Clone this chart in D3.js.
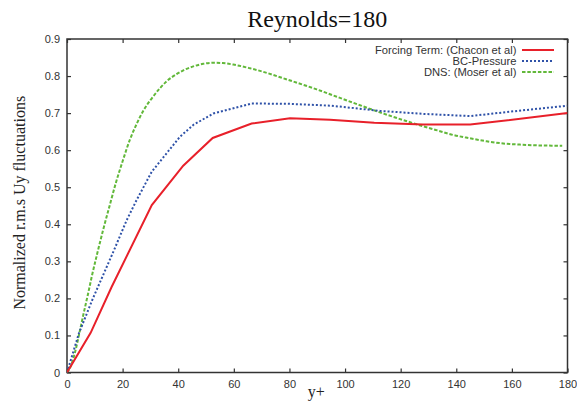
<!DOCTYPE html>
<html>
<head>
<meta charset="utf-8">
<script src="https://cdn.jsdelivr.net/npm/d3@7"></script>
<style>
  html, body { margin: 0; padding: 0; background: #fff; }
  svg { display: block; }
</style>
</head>
<body>
<svg id="chart" width="577" height="410"></svg>
<script>
// ---- data ----
const titleText = "Reynolds=180";
const xLabelText = "y+";
const yLabelText = "Normalized r.m.s Uy fluctuations";
const xTicks = [0, 20, 40, 60, 80, 100, 120, 140, 160, 180];
const yTicks = [0, 0.1, 0.2, 0.3, 0.4, 0.5, 0.6, 0.7, 0.8, 0.9];
const seriesNames = ["Forcing Term: (Chacon et al)", "BC-Pressure", "DNS: (Moser et al)"];

const forcingX = [0, 8.5, 16, 30.5, 41.8, 52.4, 66.4, 80.2, 94.6, 110.5, 128, 145, 180];
const forcingY = [0, 0.107, 0.230, 0.452, 0.558, 0.633, 0.672, 0.686, 0.682, 0.674, 0.669, 0.669, 0.700];

const bcX = [0, 4.3, 9.1, 16.9, 21.4, 25, 30.5, 40.6, 45.4, 52.6, 66.4, 80, 95, 112.6, 128, 145, 162, 180];
const bcY = [0, 0.106, 0.196, 0.330, 0.410, 0.465, 0.542, 0.636, 0.668, 0.699, 0.726, 0.725, 0.720, 0.706, 0.698, 0.692, 0.706, 0.720];

const dnsX = [0, 1.5, 3, 4.5, 6, 7.5, 9, 11, 13, 15.5, 17.5, 20, 22.7, 25, 27.4, 30, 33.4, 36, 39.4, 42, 45.4, 49, 52.6, 56, 59.8, 65.8, 69.4, 77.8, 89.8, 101.8, 113.7, 125.7, 132.9, 138.9, 144.9, 150.9, 156.9, 162.9, 168.9, 178.1];
const dnsY = [0, 0.02, 0.058, 0.108, 0.16, 0.21, 0.262, 0.325, 0.385, 0.455, 0.51, 0.57, 0.63, 0.67, 0.706, 0.735, 0.767, 0.787, 0.805, 0.816, 0.826, 0.833, 0.836, 0.835, 0.831, 0.821, 0.814, 0.794, 0.764, 0.731, 0.699, 0.670, 0.654, 0.641, 0.632, 0.624, 0.618, 0.615, 0.613, 0.612];

// ---- layout ----
const svg = d3.select("#chart");
const mLeft = 67, mRight = 567.5, mTop = 39, mBottom = 372.5;
const x = d3.scaleLinear().domain([0, 180]).range([mLeft, mRight]);
const y = d3.scaleLinear().domain([0, 0.9]).range([mBottom, mTop]);

const sansFont = "'Liberation Sans', Arial, Helvetica, sans-serif";
const serifFont = "'Liberation Serif', 'Times New Roman', serif";
const axisColor = "#333";

function styleAxis(g) {
  g.select(".domain").remove();
  g.selectAll(".tick line").attr("stroke", axisColor).attr("stroke-width", 1.2);
  g.selectAll(".tick text").attr("fill", axisColor).style("font-family", sansFont).style("font-size", "11px");
}

svg.append("g").attr("transform", `translate(0,${mBottom})`)
  .call(d3.axisBottom(x).tickValues(xTicks).tickSizeInner(-4).tickSizeOuter(0).tickPadding(8).tickFormat(d3.format("d")))
  .call(styleAxis);
svg.append("g").attr("transform", `translate(0,${mTop})`)
  .call(d3.axisTop(x).tickValues(xTicks).tickSizeInner(-4).tickSizeOuter(0).tickFormat(""))
  .call(styleAxis);
svg.append("g").attr("transform", `translate(${mLeft},0)`)
  .call(d3.axisLeft(y).tickValues(yTicks).tickSizeInner(-4).tickSizeOuter(0).tickPadding(7).tickFormat(d => d === 0 ? "0" : d3.format(".1f")(d)))
  .call(styleAxis);
svg.append("g").attr("transform", `translate(${mRight},0)`)
  .call(d3.axisRight(y).tickValues(yTicks).tickSizeInner(-4).tickSizeOuter(0).tickFormat(""))
  .call(styleAxis);

// frame
svg.append("rect")
  .attr("x", mLeft).attr("y", mTop)
  .attr("width", mRight - mLeft).attr("height", mBottom - mTop)
  .attr("fill", "none").attr("stroke", axisColor).attr("stroke-width", 1.5);

// ---- series ----
const series = [
  { name: seriesNames[0], xs: forcingX, ys: forcingY, color: "#e8202a", dash: null, width: 2, curve: d3.curveLinear },
  { name: seriesNames[1], xs: bcX, ys: bcY, color: "#2f52a8", dash: "2,2", width: 2, curve: d3.curveLinear },
  { name: seriesNames[2], xs: dnsX, ys: dnsY, color: "#62b83a", dash: "3.5,1.8", width: 2, curve: d3.curveMonotoneX }
];

const clipId = "plotclip";
svg.append("clipPath").attr("id", clipId).append("rect")
  .attr("x", mLeft).attr("y", mTop - 2).attr("width", mRight - mLeft).attr("height", mBottom - mTop + 2);

series.slice().reverse().forEach(s => {
  const pts = s.xs.map((v, i) => [v, s.ys[i]]);
  const line = d3.line().x(d => x(d[0])).y(d => y(d[1])).curve(s.curve);
  svg.append("path")
    .attr("d", line(pts))
    .attr("fill", "none")
    .attr("stroke", s.color)
    .attr("stroke-width", s.width)
    .attr("stroke-dasharray", s.dash)
    .attr("clip-path", `url(#${clipId})`);
});

// ---- legend ----
const legendTextX = 516.5, legendLineX1 = 522, legendLineX2 = 554;
const legendRowY = [50, 61, 72];
series.forEach((s, i) => {
  svg.append("text")
    .attr("x", legendTextX).attr("y", legendRowY[i]).attr("dy", "0.35em")
    .attr("text-anchor", "end")
    .style("font-family", sansFont).style("font-size", "11.2px")
    .attr("fill", axisColor)
    .text(s.name);
  svg.append("line")
    .attr("x1", legendLineX1).attr("x2", legendLineX2)
    .attr("y1", legendRowY[i]).attr("y2", legendRowY[i])
    .attr("stroke", s.color).attr("stroke-width", s.width)
    .attr("stroke-dasharray", s.dash);
});

// ---- titles ----
svg.append("text")
  .attr("x", (mLeft + mRight) / 2).attr("y", 27)
  .attr("text-anchor", "middle")
  .style("font-family", serifFont).style("font-size", "24px")
  .attr("fill", "#111")
  .text(titleText);

svg.append("text")
  .attr("x", (mLeft + mRight) / 2 - 1).attr("y", 397)
  .attr("text-anchor", "middle")
  .style("font-family", serifFont).style("font-size", "16px")
  .attr("fill", "#222")
  .text(xLabelText);

svg.append("text")
  .attr("transform", `translate(25,${(mTop + mBottom) / 2 - 3}) rotate(-90)`)
  .attr("text-anchor", "middle")
  .style("font-family", serifFont).style("font-size", "16px")
  .attr("fill", "#222")
  .text(yLabelText);
</script>
</body>
</html>
